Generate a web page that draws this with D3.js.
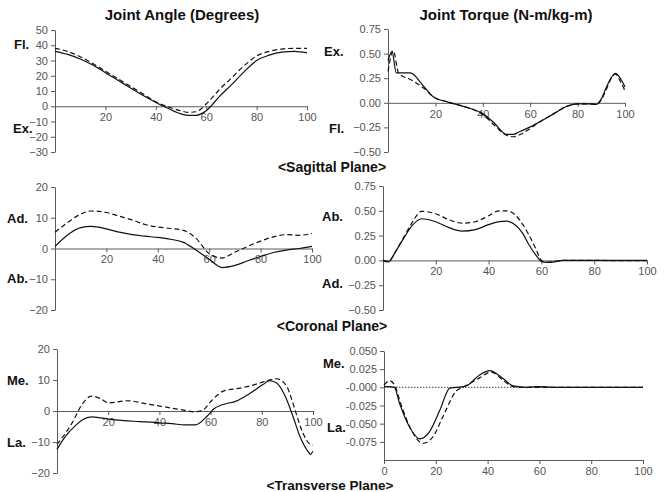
<!DOCTYPE html>
<html><head><meta charset="utf-8">
<script src="https://cdn.jsdelivr.net/npm/d3@7"></script>
<style>
html,body{margin:0;padding:0;background:#fff;}
svg{display:block;font-family:"Liberation Sans",Arial,sans-serif;}
.tick text{fill:#555;font-size:11px;}
.domain,.tick line{stroke:#5a5a5a;stroke-width:1;}
.lbl{font-weight:bold;fill:#111;}
</style></head>
<body>
<svg id="c" width="671" height="492"></svg>
<script>
// ---------- data ----------
const angleSagX      = [0,5,10,15,20,25,30,35,40,45,50,53,56,58,60,62,65,70,75,80,85,90,95,100];
const angleSagSolid  = [36,34,31,27,22,17,12,7,2.5,-1.5,-5,-6,-6,-5,-3,0.3,6,14,22.5,30,33.5,35.5,36,35];
const angleSagDashed = [38,36,32.5,28,23,18,13,8,3,-0.5,-3,-4,-3.6,-1.7,1.5,5,10.5,18.5,26.5,33,36,37.5,38,38];

const torqueSagX      = [0,1.7,3.5,9.4,15,19.2,25,30,35,40,45,50,53,55,60,65,70,75,80,85,88,90,92,94,96,98,100];
const torqueSagSolid  = [0.43,0.52,0.305,0.305,0.17,0.06,0.01,-0.024,-0.06,-0.11,-0.21,-0.32,-0.32,-0.30,-0.245,-0.18,-0.11,-0.04,-0.01,-0.01,-0.015,0.04,0.15,0.25,0.30,0.25,0.16];
const torqueSagDashedX = [0,2.2,4.5,10,15,19.2,25,30,35,40,45,50,53,56,60,65,70,75,80,85,88,90,92,94,96,98,100];
const torqueSagDashed = [0.32,0.53,0.30,0.23,0.15,0.06,0.01,-0.024,-0.06,-0.12,-0.23,-0.33,-0.345,-0.32,-0.26,-0.18,-0.11,-0.04,-0.01,-0.01,-0.015,0.03,0.13,0.24,0.29,0.22,0.12];

const angleCorX      = [0,5,10,14,20,25,30,35,40,45,50,55,60,65,70,75,80,85,90,95,100];
const angleCorSolid  = [0.7,4.5,6.8,7.2,6.4,5.3,4.5,4,3.6,3,2,-0.6,-3.5,-6.2,-5.5,-4,-2.6,-1.3,-0.5,0,0.7];
const angleCorDashed = [5.3,8.5,11.2,12.2,11.7,10.5,9.3,7.8,7,6.5,5.9,3.2,-1.7,-3.1,-1.2,0.7,2.4,3.8,4.5,4.3,4.9];

const torqueCorX      = [0,2,5,8,11,14.6,20,25,30,35,40,44,47,50,53,55,58,60,62,65,68,70,80,90,100];
const torqueCorSolid  = [0,-0.015,0.1,0.23,0.35,0.42,0.39,0.33,0.295,0.31,0.36,0.39,0.395,0.36,0.27,0.17,0.05,-0.01,-0.02,-0.015,0,0,0,0,0];
const torqueCorDashed = [0,-0.01,0.1,0.24,0.38,0.495,0.47,0.41,0.375,0.39,0.45,0.5,0.5,0.46,0.36,0.27,0.11,0,-0.02,-0.01,0,0,0,-0.003,-0.003];

const angleTransX      = [0,3,7.7,10,13.5,17,20,25,30,35,40,45,50,54,58.7,61.3,64.5,70,75,80.6,83,85.8,89,92.3,94.8,98,99,100];
const angleTransSolid  = [-12.4,-8.5,-4.3,-2.8,-1.9,-2.2,-2.6,-3,-3.3,-3.5,-3.8,-4.1,-4.5,-4.5,-1.6,0.7,2,3.2,5.5,8.6,9.8,9,5,-2,-8,-13,-14,-13];
const angleTransDashedX = [0,3,5.8,9.7,13.5,17,20,27.7,35,40,45,50,53.5,57,60,65,71.6,76,80.6,85.8,89.7,91.6,93.5,96,98.7,100];
const angleTransDashed = [-10.8,-7.5,-4,2,4.8,4,2.6,3.3,2.3,1.6,0.9,0.2,-0.3,0.3,3,6.4,7.4,8.2,9.4,10.4,8,4,-1,-7,-10.6,-11];

const torqueTransX      = [0,2,4,6,9.9,13.8,17.6,21.5,25.4,28,31.8,36.9,40.8,46,49.8,55,60,65,70,100];
const torqueTransSolid  = [0.001,0.001,0,-0.022,-0.055,-0.071,-0.061,-0.032,-0.001,0,0.002,0.017,0.023,0.012,0.002,0,0.001,0,0,0];
const torqueTransDashedX = [0,2.2,4.1,6.7,10.6,15,18.9,22.8,27.9,30.5,36.9,41.4,46.6,49.8,55,70,100];
const torqueTransDashed = [0.003,0.009,0.003,-0.025,-0.059,-0.077,-0.068,-0.04,-0.005,0,0.013,0.021,0.008,0.001,0,0,0];

const angleTicks = [-30,-20,-10,0,10,20,30,40,50];
const corTicks = [-20,-10,0,10,20];
const torqueTicks = [-0.5,-0.25,0,0.25,0.5,0.75];
const torqueTransTicks = [0.05,0.025,0,-0.025,-0.05,-0.075];
const torqueTransTickLabels = ["0.050","0.025","-0.000","-0.025","-0.050","-0.075"];
const xTicks = [20,40,60,80,100];
const xTicksFull = [0,20,40,60,80,100];

// ---------- drawing ----------
const svg = d3.select("#c");

function panel(cfg){
  const x = d3.scaleLinear().domain([0,100]).range([cfg.x0,cfg.x1]);
  const y = d3.scaleLinear().domain(cfg.yd).range([cfg.yb,cfg.yt]);
  const g = svg.append("g");
  const ya = d3.axisLeft(y).tickValues(cfg.yticks).tickSize(4).tickSizeOuter(0).tickPadding(3);
  if(cfg.ylabels) ya.tickFormat((d,i)=>cfg.ylabels[i]);
  else if(cfg.yfmt) ya.tickFormat(d3.format(cfg.yfmt));
  g.append("g").attr("transform",`translate(${cfg.x0},0)`).call(ya);
  const xPos = cfg.xAtBottom ? cfg.yb : y(0);
  g.append("g").attr("transform",`translate(0,${xPos})`)
    .call(d3.axisBottom(x).tickValues(cfg.xticks).tickSize(4).tickSizeOuter(0).tickPadding(3));
  if(cfg.dotZero){
    g.append("line").attr("x1",x(0)).attr("x2",x(100)).attr("y1",y(0)).attr("y2",y(0))
     .attr("stroke","#444").attr("stroke-width",1).attr("stroke-dasharray","1.5,1.5");
  }
  cfg.series.forEach(s=>{
    const pts = s.xs.map((v,i)=>[v,s.ys[i]]);
    const line = d3.line().x(d=>x(d[0])).y(d=>y(d[1])).curve(d3.curveMonotoneX);
    g.append("path").attr("d",line(pts)).attr("fill","none").attr("stroke","#111")
     .attr("stroke-width",1.2).attr("stroke-dasharray",s.dash?"5,3":null);
  });
}

panel({x0:55,x1:307,yd:[-30,50],yb:152,yt:30,yticks:angleTicks,xticks:xTicks,
  series:[{xs:angleSagX,ys:angleSagSolid},{xs:angleSagX,ys:angleSagDashed,dash:true}]});
panel({x0:388,x1:625,yd:[-0.5,0.75],yb:152,yt:29,yticks:torqueTicks,yfmt:".2f",xticks:xTicks,
  series:[{xs:torqueSagX,ys:torqueSagSolid},{xs:torqueSagDashedX,ys:torqueSagDashed,dash:true}]});
panel({x0:55,x1:312,yd:[-20,20],yb:310,yt:187,yticks:corTicks,xticks:xTicks,
  series:[{xs:angleCorX,ys:angleCorSolid},{xs:angleCorX,ys:angleCorDashed,dash:true}]});
panel({x0:383,x1:647,yd:[-0.5,0.75],yb:310,yt:186,yticks:torqueTicks,yfmt:".2f",xticks:xTicks,
  series:[{xs:torqueCorX,ys:torqueCorSolid},{xs:torqueCorX,ys:torqueCorDashed,dash:true}]});
panel({x0:57,x1:313,yd:[-20,20],yb:473,yt:349,yticks:corTicks,xticks:xTicks,
  series:[{xs:angleTransX,ys:angleTransSolid},{xs:angleTransDashedX,ys:angleTransDashed,dash:true}]});
panel({x0:384,x1:643,yd:[-0.1,0.05],yb:460,yt:351,yticks:torqueTransTicks,ylabels:torqueTransTickLabels,
  xticks:xTicksFull,xAtBottom:true,dotZero:true,
  series:[{xs:torqueTransX,ys:torqueTransSolid},{xs:torqueTransDashedX,ys:torqueTransDashed,dash:true}]});

// ---------- text ----------
function txt(s,x,y,size,anchor){
  svg.append("text").attr("class","lbl").attr("x",x).attr("y",y)
    .attr("font-size",size).attr("text-anchor",anchor||"start").text(s);
}
txt("Joint Angle (Degrees)",182,20,15,"middle");
txt("Joint Torque  (N-m/kg-m)",506,20,15,"middle");
txt("<Sagittal Plane>",332,172,14,"middle");
txt("<Coronal Plane>",332,331,14,"middle");
txt("<Transverse Plane>",330,490,13.5,"middle");
txt("Fl.",14,49,13); txt("Ex.",13,133,13);
txt("Ex.",324,56,13); txt("Fl.",329,133,13);
txt("Ad.",7,223,13); txt("Ab.",7,283,13);
txt("Ab.",322,221,13); txt("Ad.",322,288,13);
txt("Me.",7,385,13); txt("La.",7,447,13);
txt("Me.",323,368,13); txt("La.",327,432,13);
</script>
</body></html>
